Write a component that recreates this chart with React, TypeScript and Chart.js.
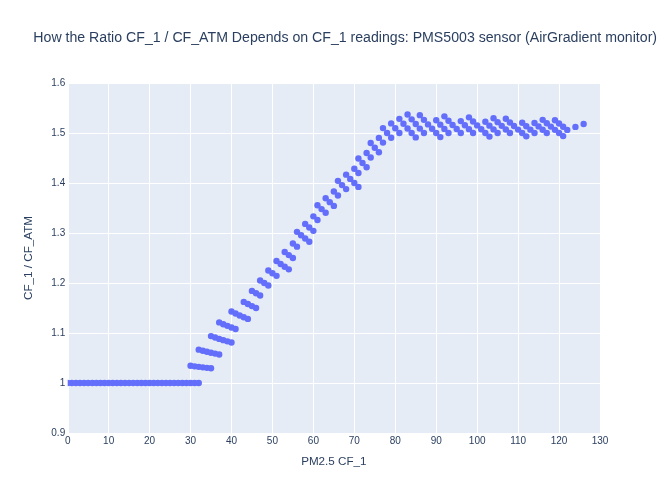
import React, { useEffect, useRef } from "react";
import { Chart, registerables } from "chart.js";

Chart.register(...registerables);

const chartTitle =
  "How the Ratio CF_1 / CF_ATM Depends on CF_1 readings: PMS5003 sensor (AirGradient monitor)";
const xAxisTitle = "PM2.5 CF_1";
const yAxisTitle = "CF_1 / CF_ATM";

const xTicks = [0, 10, 20, 30, 40, 50, 60, 70, 80, 90, 100, 110, 120, 130];
const yTicks = [0.9, 1, 1.1, 1.2, 1.3, 1.4, 1.5, 1.6];

const cf1Values = [
  0, 1, 2, 3, 4, 5, 6, 7, 8, 9, 10, 11, 12, 13, 14, 15, 16, 17, 18, 19, 20, 21, 22, 23, 24, 25, 26, 27, 28, 29, 30, 31, 32,
  30, 31, 32, 33, 34, 35,
  32, 33, 34, 35, 36, 37,
  35, 36, 37, 38, 39, 40,
  37, 38, 39, 40, 41,
  40, 41, 42, 43, 44,
  43, 44, 45, 46,
  45, 46, 47,
  47, 48, 49,
  49, 50, 51,
  51, 52, 53, 54,
  53, 54, 55,
  55, 56,
  56, 57, 58, 59,
  58, 59, 60,
  60, 61,
  61, 62, 63,
  63, 64, 65,
  65, 66,
  66, 67, 68,
  68, 69, 70, 71,
  70, 71,
  71, 72, 73,
  73, 74,
  74, 75, 76,
  76, 77,
  77, 78, 79,
  79, 80, 81,
  81, 82, 83, 84, 85,
  83, 84, 85, 86, 87,
  86, 87, 88, 89, 90, 91,
  90, 91, 92, 93,
  92, 93, 94, 95, 96,
  96, 97, 98, 99,
  98, 99, 100, 101, 102, 103,
  102, 103, 104, 105,
  104, 105, 106, 107, 108,
  107, 108, 109, 110, 111, 112,
  111, 112, 113, 114,
  114, 115, 116, 117,
  116, 117, 118, 119, 120, 121,
  119, 120, 121, 122,
  124,
  126,
];

const ratioValues = [
  1, 1, 1, 1, 1, 1, 1, 1, 1, 1, 1, 1, 1, 1, 1, 1, 1, 1, 1, 1, 1, 1, 1, 1, 1, 1, 1, 1, 1, 1, 1, 1, 1,
  1.0345, 1.0333, 1.0323, 1.0313, 1.0303, 1.0294,
  1.0667, 1.0645, 1.0625, 1.0606, 1.0588, 1.0571,
  1.0938, 1.0909, 1.0882, 1.0857, 1.0833, 1.0811,
  1.1212, 1.1176, 1.1143, 1.1111, 1.1081,
  1.1429, 1.1389, 1.1351, 1.1316, 1.1282,
  1.1622, 1.1579, 1.1538, 1.15,
  1.1842, 1.1795, 1.175,
  1.2051, 1.2, 1.1951,
  1.225, 1.2195, 1.2143,
  1.2439, 1.2381, 1.2326, 1.2273,
  1.2619, 1.2558, 1.25,
  1.2791, 1.2727,
  1.3023, 1.2955, 1.2889, 1.2826,
  1.3182, 1.3111, 1.3043,
  1.3333, 1.3261,
  1.3556, 1.3478, 1.3404,
  1.3696, 1.3617, 1.3542,
  1.383, 1.375,
  1.4043, 1.3958, 1.3878,
  1.4167, 1.4082, 1.4, 1.3922,
  1.4286, 1.42,
  1.449, 1.44, 1.4314,
  1.46, 1.451,
  1.48, 1.4706, 1.4615,
  1.4902, 1.4808,
  1.5098, 1.5, 1.4906,
  1.5192, 1.5094, 1.5,
  1.5283, 1.5185, 1.5091, 1.5, 1.4912,
  1.537, 1.5273, 1.5179, 1.5088, 1.5,
  1.5357, 1.5263, 1.5172, 1.5085, 1.5, 1.4918,
  1.5254, 1.5167, 1.5082, 1.5,
  1.5333, 1.5246, 1.5161, 1.5079, 1.5,
  1.5238, 1.5156, 1.5077, 1.5,
  1.5313, 1.5231, 1.5152, 1.5075, 1.5, 1.4928,
  1.5224, 1.5147, 1.5072, 1.5,
  1.5294, 1.5217, 1.5143, 1.507, 1.5,
  1.5286, 1.5211, 1.5139, 1.5068, 1.5, 1.4933,
  1.5205, 1.5135, 1.5067, 1.5,
  1.52, 1.5132, 1.5065, 1.5,
  1.5263, 1.5195, 1.5128, 1.5063, 1.5, 1.4938,
  1.5256, 1.519, 1.5125, 1.5062,
  1.5122,
  1.5181,
];

const FONT = "'Liberation Sans', Arial, sans-serif";
const TEXT_COLOR = "#2a3f5f";

export default function App() {
  const canvasRef = useRef<HTMLCanvasElement | null>(null);

  useEffect(() => {
    const canvas = canvasRef.current;
    if (!canvas) return;

    const bgPlugin = {
      id: "plotBg",
      beforeDraw(chart: any) {
        const { ctx, chartArea } = chart;
        ctx.save();
        ctx.fillStyle = "#ffffff";
        ctx.fillRect(0, 0, chart.width, chart.height);
        ctx.fillStyle = "#E5ECF6";
        ctx.fillRect(chartArea.left, chartArea.top, chartArea.right - chartArea.left, chartArea.bottom - chartArea.top);
        ctx.restore();
      },
      afterDraw(chart: any) {
        const { ctx } = chart;
        ctx.save();
        ctx.fillStyle = TEXT_COLOR;
        ctx.font = "14.15px " + FONT;
        ctx.textAlign = "left";
        ctx.textBaseline = "middle";
        ctx.fillText(chartTitle, 33.3, 38.5);
        ctx.restore();
      },
    };

    const chart = new Chart(canvas, {
      type: "scatter",
      data: {
        datasets: [
          {
            label: "ratio",
            data: cf1Values.map((x, i) => ({ x, y: ratioValues[i] })),
            backgroundColor: "#636efa",
            borderWidth: 0,
            pointRadius: 3.2,
            pointHoverRadius: 3.2,
          },
        ],
      },
      options: {
        animation: false,
        responsive: false,
        events: [],
        layout: { padding: { left: 0, right: 66, top: 83, bottom: 0 } },
        plugins: {
          legend: { display: false },
          tooltip: { enabled: false },
          title: { display: false },
        },
        scales: {
          x: {
            type: "linear",
            min: 0,
            max: 130,
            afterBuildTicks: (scale: any) => {
              scale.ticks = xTicks.map((v) => ({ value: v }));
            },
            afterFit: (scale: any) => {
              scale.height = 67;
            },
            border: { display: false },
            grid: {
              color: "#ffffff",
              lineWidth: (ctx: any) => (ctx.tick && ctx.tick.value === 0 ? 2 : 1),
              drawTicks: false,
            },
            ticks: {
              color: TEXT_COLOR,
              font: { family: FONT, size: 10 },
              padding: 2.5,
              maxRotation: 0,
              autoSkip: false,
              callback: (v: any) => String(v),
            },
            title: {
              display: true,
              text: xAxisTitle,
              color: TEXT_COLOR,
              font: { family: FONT, size: 11.66 },
              padding: { top: 0, bottom: 31 },
            },
          },
          y: {
            type: "linear",
            min: 0.9,
            max: 1.6,
            afterBuildTicks: (scale: any) => {
              scale.ticks = yTicks.map((v) => ({ value: v }));
            },
            afterFit: (scale: any) => {
              scale.width = 67.7;
            },
            border: { display: false },
            grid: { color: "#ffffff", lineWidth: 1, drawTicks: false },
            ticks: {
              color: TEXT_COLOR,
              font: { family: FONT, size: 10 },
              padding: 2.5,
              autoSkip: false,
              callback: (v: any) => String(Math.round(Number(v) * 10) / 10),
            },
            title: {
              display: true,
              text: yAxisTitle,
              color: TEXT_COLOR,
              font: { family: FONT, size: 11.66 },
              padding: { top: 22, bottom: 0 },
            },
          },
        },
      },
      plugins: [bgPlugin],
    });

    return () => {
      chart.destroy();
    };
  }, []);

  return (
    <div style={{ position: "absolute", left: 0, top: 0, width: 666, height: 500 }}>
      <canvas ref={canvasRef} width={666} height={500} style={{ width: 666, height: 500, display: "block" }} />
    </div>
  );
}
